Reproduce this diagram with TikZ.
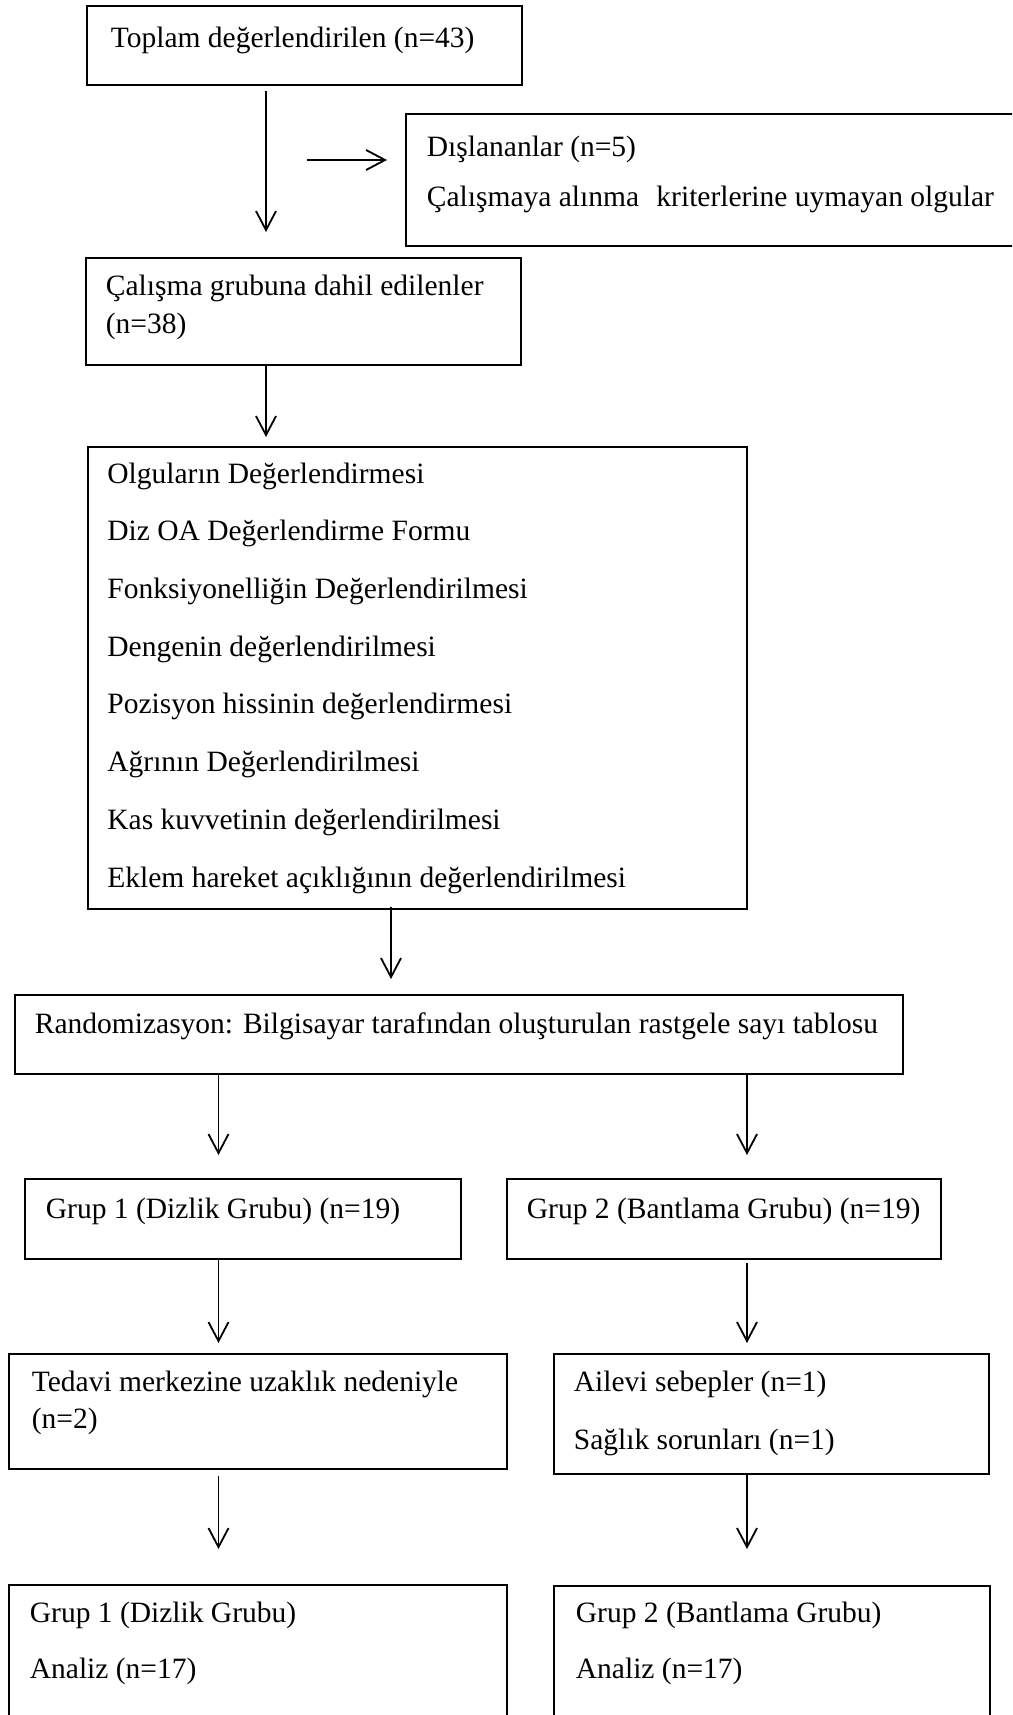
\documentclass[tikz,border=0pt]{standalone}
\usepackage{fontspec}
\setmainfont{Liberation Serif}
\usetikzlibrary{arrows.meta}

\tikzset{every picture/.style={line width=1.8pt}}
\tikzset{
  box/.style={draw, rectangle, anchor=north west, inner sep=0pt, line width=2pt},
  txt/.style={anchor=base west, inner sep=0pt, font=\fontsize{29.5}{35}\selectfont},
  arr/.style={-{Straight Barb[length=19pt,width=20pt]}}
}

\begin{document}
\begin{tikzpicture}[x=1pt,y=1pt,yscale=-1,xscale=1]
\clip (0,0) rectangle (1012,1715);
%Shape: Rectangle [total]
\node[box, minimum width=435pt, minimum height=79pt] (tot) at (86,5) {};
%Shape: Rectangle [excluded]
\node[box, minimum width=640pt, minimum height=132pt] (exc) at (405,113) {};
%Shape: Rectangle [included]
\node[box, minimum width=435pt, minimum height=107pt] (incl) at (85,257) {};
%Shape: Rectangle [evaluation]
\node[box, minimum width=659.5pt, minimum height=462pt] (eval) at (86.5,446) {};
%Shape: Rectangle [randomisation]
\node[box, minimum width=888.5pt, minimum height=79pt] (rand) at (13.5,994) {};
%Shape: Rectangle [group 1]
\node[box, minimum width=436pt, minimum height=80pt] (g1) at (24,1178) {};
%Shape: Rectangle [group 2]
\node[box, minimum width=434.5pt, minimum height=80pt] (g2) at (505.5,1178) {};
%Shape: Rectangle [drop-outs 1]
\node[box, minimum width=498pt, minimum height=115pt] (drop1) at (8,1353) {};
%Shape: Rectangle [drop-outs 2]
\node[box, minimum width=435pt, minimum height=120pt] (drop2) at (553,1353) {};
%Shape: Rectangle [analysis 1]
\node[box, minimum width=497.5pt, minimum height=200pt] (fin1) at (8,1584) {};
%Shape: Rectangle [analysis 2]
\node[box, minimum width=436pt, minimum height=200pt] (fin2) at (553,1585) {};

%Straight Lines
\draw[arr] ([xshift=-38.5pt,yshift=5pt]tot.south) -- ([xshift=-37.5pt,yshift=-25pt]incl.north);
%Straight Lines
\draw[arr] ([xshift=-98pt,yshift=-20pt]exc.west) -- ([xshift=-18pt,yshift=-20pt]exc.west);
%Straight Lines
\draw[arr] ([xshift=-37.5pt]incl.south) -- ([xshift=-151.25pt,yshift=-9pt]eval.north);
%Straight Lines
\draw[arr] ([xshift=-26.25pt,yshift=-3pt]eval.south) -- ([xshift=-67.75pt,yshift=-15pt]rand.north);
%Straight Lines
\draw[arr] ([xshift=-240.25pt]rand.south) -- ([xshift=-24.5pt,yshift=-23pt]g1.north);
%Straight Lines
\draw[arr] ([xshift=288.25pt]rand.south) -- ([xshift=23.25pt,yshift=-23pt]g2.north);
%Straight Lines
\draw[arr] ([xshift=-24.5pt]g1.south) -- ([xshift=-39.5pt,yshift=-10pt]drop1.north);
%Straight Lines
\draw[arr] ([xshift=23.25pt,yshift=3pt]g2.south) -- ([xshift=-24.5pt,yshift=-10pt]drop2.north);
%Straight Lines
\draw[arr] ([xshift=-39.5pt,yshift=6pt]drop1.south) -- ([xshift=-39.25pt,yshift=-35pt]fin1.north);
%Straight Lines
\draw[arr] ([xshift=-24.5pt]drop2.south) -- ([xshift=-25pt,yshift=-36pt]fin2.north);

% Text Node
\node[txt] (ttot) at (110,48) {Toplam değerlendirilen (n=43)};
% Text Node
\node[txt] (texca) at (426,157) {Dışlananlar (n=5)};
\node[txt] (texcb) at (426,207) {Çalışmaya alınma\hspace{10pt} kriterlerine uymayan olgular};
% Text Node
\node[txt] (tincla) at (105,295) {Çalışma grubuna dahil edilenler};
\node[txt] (tinclb) at (105,333) {(n=38)};
% Text Node
\node[txt] (teva) at (106.5,483) {Olguların Değerlendirmesi};
\node[txt] (tevb) at (106.5,540.7) {Diz OA Değerlendirme Formu};
\node[txt] (tevc) at (106.5,598.4) {Fonksiyonelliğin Değerlendirilmesi};
\node[txt] (tevd) at (106.5,656.1) {Dengenin değerlendirilmesi};
\node[txt] (teve) at (106.5,713.8) {Pozisyon hissinin değerlendirmesi};
\node[txt] (tevf) at (106.5,771.5) {Ağrının Değerlendirilmesi};
\node[txt] (tevg) at (106.5,829.2) {Kas kuvvetinin değerlendirilmesi};
\node[txt] (tevh) at (106.5,887) {Eklem hareket açıklığının değerlendirilmesi};
% Text Node
\node[txt] (trand) at (34,1033) {Randomizasyon: Bilgisayar tarafından oluşturulan rastgele sayı tablosu};
% Text Node
\node[txt] (tgone) at (45,1218) {Grup 1 (Dizlik Grubu) (n=19)};
\node[txt] (tgtwo) at (526,1218) {Grup 2 (Bantlama Grubu) (n=19)};
% Text Node
\node[txt] (tdropa) at (31,1391) {Tedavi merkezine uzaklık nedeniyle};
\node[txt] (tdropb) at (31,1428) {(n=2)};
\node[txt] (tdropc) at (573,1391) {Ailevi sebepler (n=1)};
\node[txt] (tdropd) at (573,1449) {Sağlık sorunları (n=1)};
% Text Node
\node[txt] (tfina) at (29,1622) {Grup 1 (Dizlik Grubu)};
\node[txt] (tfinb) at (29,1678) {Analiz (n=17)};
\node[txt] (tfinc) at (575,1622) {Grup 2 (Bantlama Grubu)};
\node[txt] (tfind) at (575,1678) {Analiz (n=17)};

\end{tikzpicture}
\end{document}
